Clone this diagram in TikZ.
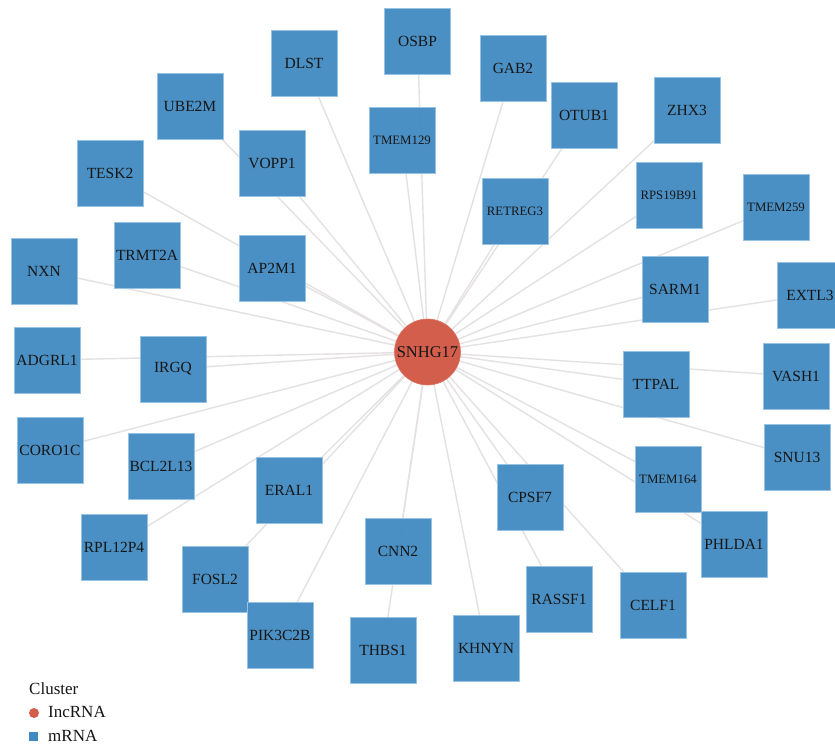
\documentclass[tikz,border=0pt]{standalone}
\usepackage{fontspec}
\setmainfont{Liberation Serif}
\definecolor{boxblue}{RGB}{64,138,193}
\definecolor{boxedge}{RGB}{150,195,228}
\definecolor{hubred}{RGB}{212,94,76}
\definecolor{edgegray}{RGB}{229,225,226}
\definecolor{txt}{RGB}{22,22,22}
\pgfdeclarelayer{bg}
\pgfdeclarelayer{edges}
\pgfsetlayers{bg,edges,main}
\tikzset{
  gene/.style={rectangle, fill=boxblue, fill opacity=0.94, text opacity=1, draw=boxedge, line width=0.8pt, minimum size=66pt, inner sep=0pt, text=txt, font=\fontsize{15.5}{18}\selectfont},
  smallgene/.style={gene, font=\fontsize{12.8}{15}\selectfont},
  hub/.style={circle, fill=hubred, draw=hubred!85!white, line width=0.6pt, minimum size=66pt, inner sep=0pt, text=txt, font=\fontsize{16.5}{19}\selectfont},
  link/.style={draw=edgegray, line width=1.4pt},
  legtext/.style={anchor=base west, inner sep=0pt, text=txt, font=\fontsize{17}{20}\selectfont}
}
\begin{document}
\begin{tikzpicture}[x=1pt,y=-1pt]
\useasboundingbox (0,0) rectangle (835,750);
\clip (0,0) rectangle (835,750);
\begin{pgfonlayer}{bg}
\fill[white] (0,0) rectangle (835,750);
\end{pgfonlayer}
\coordinate (hubc) at (427.5,352);
% genes
\node[gene] (OSBP) at (417.5,41) {OSBP};
\node[gene] (DLST) at (304,63) {DLST};
\node[gene] (GAB2) at (513,68.5) {GAB2};
\node[gene] (UBE2M) at (190,106) {UBE2M};
\node[gene] (OTUB1) at (584,115) {OTUB1};
\node[gene] (ZHX3) at (687,110) {ZHX3};
\node[smallgene] (TMEM129) at (402,140) {TMEM129};
\node[gene] (VOPP1) at (272,163) {VOPP1};
\node[gene] (TESK2) at (110,173) {TESK2};
\node[smallgene] (RPS19B91) at (669,195) {RPS19B91};
\node[smallgene] (TMEM259) at (776,207) {TMEM259};
\node[smallgene] (RETREG3) at (515,211) {RETREG3};
\node[gene] (TRMT2A) at (147,255) {TRMT2A};
\node[gene] (AP2M1) at (272,268) {AP2M1};
\node[gene] (NXN) at (44,271) {NXN};
\node[gene] (SARM1) at (675,289) {SARM1};
\node[gene] (EXTL3) at (810,295) {EXTL3};
\node[gene] (ADGRL1) at (47,360) {ADGRL1};
\node[gene] (IRGQ) at (173,369) {IRGQ};
\node[gene] (TTPAL) at (656,384) {TTPAL};
\node[gene] (VASH1) at (796,376) {VASH1};
\node[gene] (CORO1C) at (50,450) {CORO1C};
\node[gene] (BCL2L13) at (161,466) {BCL2L13};
\node[gene] (ERAL1) at (289,490) {ERAL1};
\node[gene] (SNU13) at (797,457) {SNU13};
\node[smallgene] (TMEM164) at (668,479) {TMEM164};
\node[gene] (CPSF7) at (530,497) {CPSF7};
\node[gene] (PHLDA1) at (734,544) {PHLDA1};
\node[gene] (RPL12P4) at (114,547) {RPL12P4};
\node[gene] (CNN2) at (398,551) {CNN2};
\node[gene] (FOSL2) at (215,579) {FOSL2};
\node[gene] (RASSF1) at (559,599) {RASSF1};
\node[gene] (CELF1) at (653,605) {CELF1};
\node[gene] (PIK3C2B) at (280,635) {PIK3C2B};
\node[gene] (THBS1) at (383,650) {THBS1};
\node[gene] (KHNYN) at (486,648) {KHNYN};
% edges behind boxes
\begin{pgfonlayer}{edges}
\foreach \g in {OSBP,DLST,GAB2,UBE2M,OTUB1,ZHX3,TMEM129,VOPP1,TESK2,RPS19B91,TMEM259,RETREG3,TRMT2A,AP2M1,NXN,SARM1,EXTL3,ADGRL1,IRGQ,TTPAL,VASH1,CORO1C,BCL2L13,ERAL1,SNU13,TMEM164,CPSF7,PHLDA1,RPL12P4,CNN2,FOSL2,RASSF1,CELF1,PIK3C2B,THBS1,KHNYN}
  \draw[link] (hubc) -- (\g.center);
\end{pgfonlayer}
\node[hub] (SNHG17) at (hubc) {SNHG17};
% legend
\node[legtext] (legtitle) at (29,694) {Cluster};
\node[circle, fill=hubred, minimum size=10pt, inner sep=0pt] (legdot) at (34,713) {};
\node[legtext] (leglnc) at (48,717) {IncRNA};
\node[rectangle, fill=boxblue, minimum size=9pt, inner sep=0pt] (legsq) at (33.5,736.5) {};
\node[legtext] (legm) at (48,741) {mRNA};
\end{tikzpicture}
\end{document}
